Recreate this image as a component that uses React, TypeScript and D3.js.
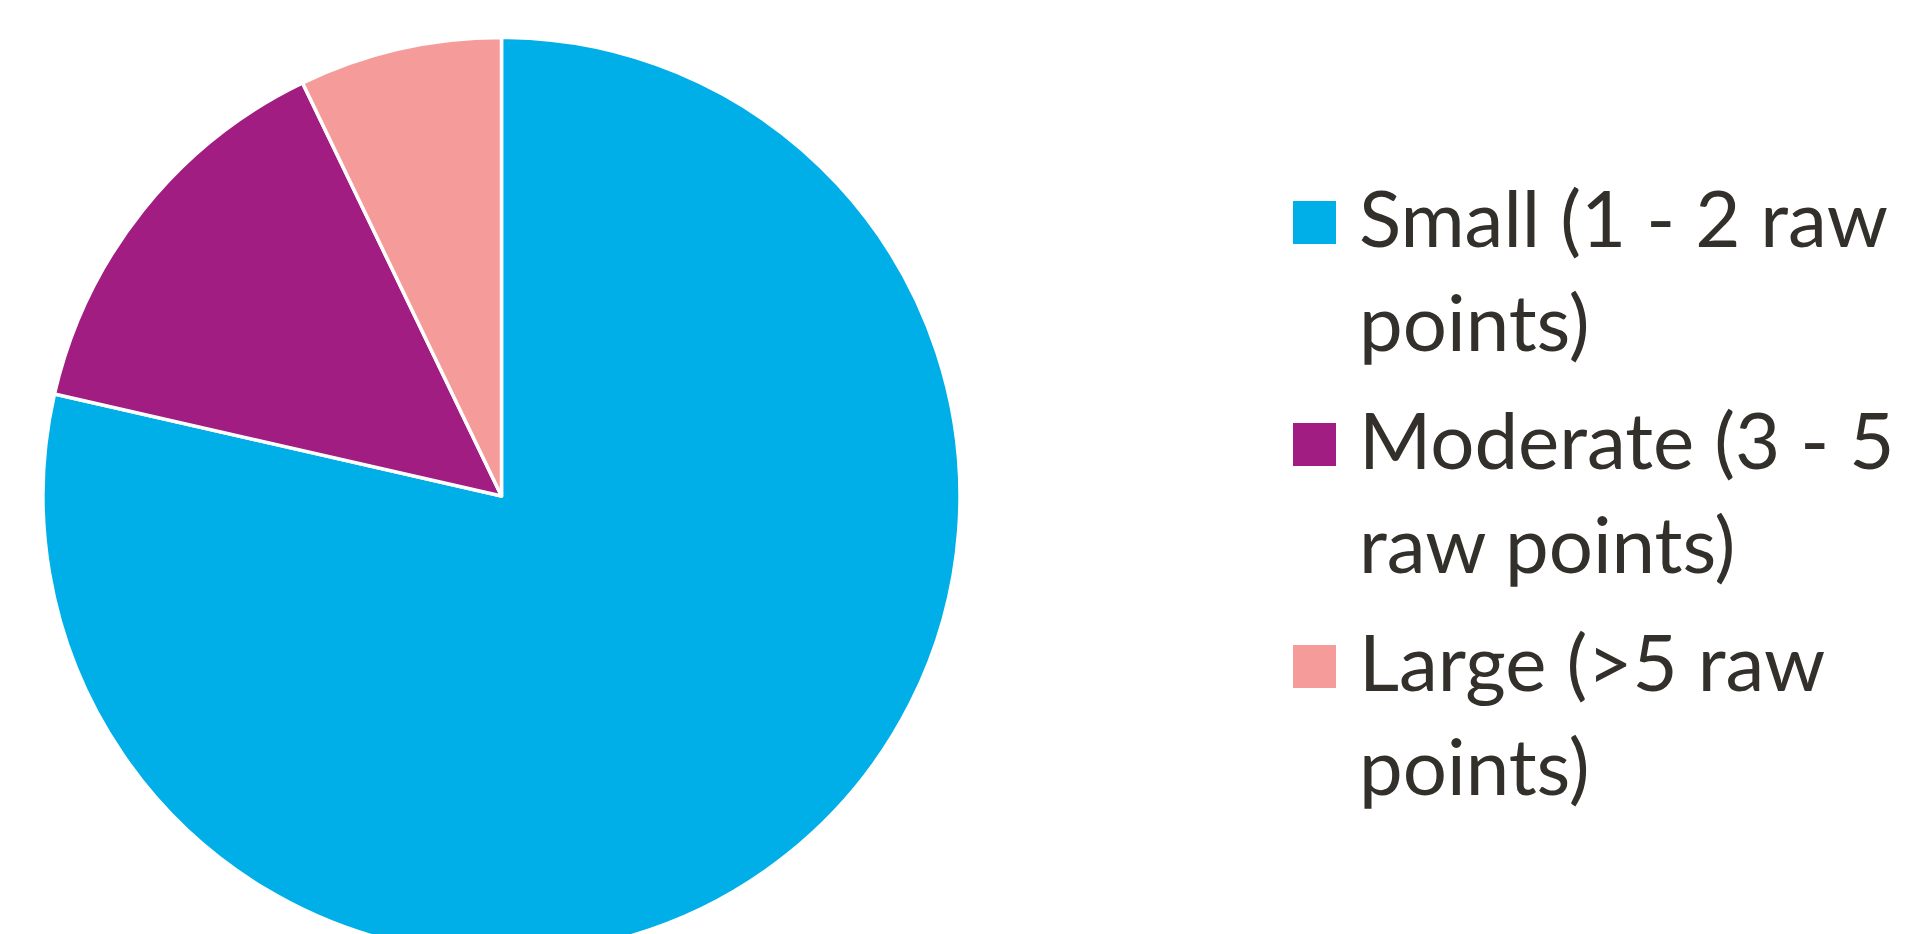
import React from "react";
import * as d3 from "d3";

const categories = ["Small (1 - 2 raw points)", "Moderate (3 - 5 raw points)", "Large (>5 raw points)"];
const labelLines = [
  ["Small (1 - 2 raw", "points)"],
  ["Moderate (3 - 5", "raw points)"],
  ["Large (>5 raw", "points)"],
];
const values = [55, 10, 5];
const colors = ["#00AEE8", "#A21D82", "#F59B9A"];

const W = 1909;
const H = 934;
const CX = 501.5;
const CY = 496;
const R = 458.5;

const LEG_X = 1293;
const SQ = 43;
const TEXT_X = 1359;
const FIRST_BASE = 247;
const LINE_H = 104;
const ENTRY_H = 222;
const FONT = "Lato, 'Open Sans', sans-serif";
const FONT_SIZE = 78;
const TEXT_COLOR = "#33302B";

export default function App() {
  const pie = d3.pie<number>().sort(null).value((d) => d);
  const arcs = pie(values);
  const arc = d3.arc<d3.PieArcDatum<number>>().innerRadius(0).outerRadius(R);
  const legendY = d3.scaleLinear().domain([0, 1]).range([FIRST_BASE, FIRST_BASE + ENTRY_H]);

  return (
    <svg
      width={W}
      height={H}
      style={{ position: "absolute", left: 0, top: 0, background: "#fff" }}
    >
      <g transform={`translate(${CX},${CY})`}>
        {arcs.map((a, i) => (
          <path key={categories[i]} d={arc(a) || ""} fill={colors[i]} stroke="#fff" strokeWidth={3.5} strokeLinejoin="round" />
        ))}
      </g>
      <g>
        {categories.map((c, i) => {
          const base = legendY(i);
          return (
            <g key={c}>
              <rect x={LEG_X} y={base - 46} width={SQ} height={SQ} fill={colors[i]} />
              {labelLines[i].map((ln, j) => (
                <text
                  key={j}
                  x={TEXT_X}
                  y={base + j * LINE_H}
                  fontFamily={FONT}
                  fontSize={FONT_SIZE}
                  fill={TEXT_COLOR}
                >
                  {ln}
                </text>
              ))}
            </g>
          );
        })}
      </g>
    </svg>
  );
}
